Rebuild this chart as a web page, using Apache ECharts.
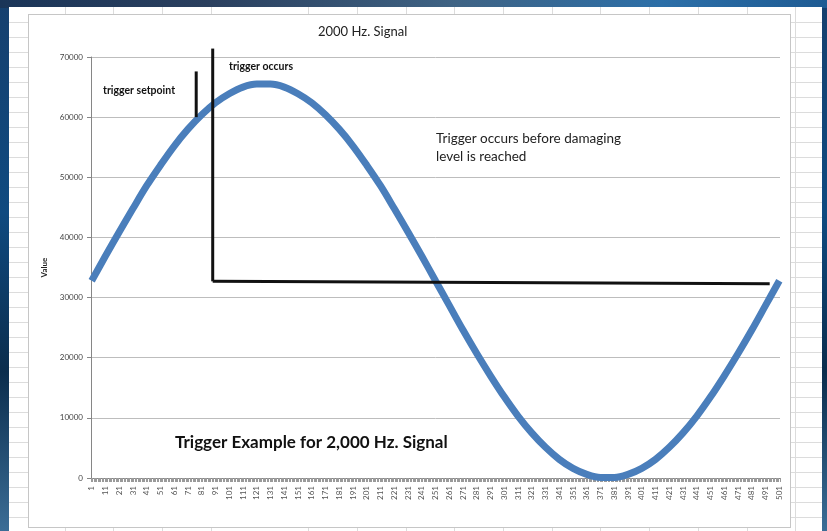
<!DOCTYPE html>
<html>
<head>
<meta charset="utf-8">
<script src="https://cdn.jsdelivr.net/npm/echarts@6/dist/echarts.min.js"></script>
<style>
  html, body { margin: 0; padding: 0; }
  body {
    width: 827px; height: 531px; overflow: hidden; position: relative;
    background: linear-gradient(180deg, #16406e 0%, #0f4a80 40%, #0b2d4d 70%, #3b6d96 100%);
  }
  .wallTop {
    position: absolute; left: 0; top: 0; width: 827px; height: 8px;
    background: linear-gradient(90deg, #1a3558 0%, #2a3f5e 25%, #3f6384 55%, #2c6fa8 80%, #1e5b93 100%);
  }
  .sheet {
    position: absolute; left: 9px; top: 7px; width: 813px; height: 524px;
    background-color: #fff;
    background-image:
      repeating-linear-gradient(90deg, transparent 0, transparent 47.7px, #dcdcdc 47.7px, #dcdcdc 48.7px),
      repeating-linear-gradient(180deg, transparent 0, transparent 14px, #dcdcdc 14px, #dcdcdc 15px);
    background-position: 8px 0, 0 1px;
  }
  .frame {
    position: absolute; left: 28px; top: 14px; width: 761px; height: 512px;
    background: #fff; border: 1px solid #c6c6c6;
  }
  #chart { position: absolute; left: 0; top: 0; width: 827px; height: 531px; }
</style>
</head>
<body>
<div class="wallTop"></div>
<div class="sheet"></div>
<div class="frame"></div>
<div id="chart"></div>
<script>
// sample numbers on the x axis (1..501)
const samples = Array.from({ length: 501 }, (_, i) => String(i + 1))

// signal every 10 samples (1, 11, 21, ... 501)
const signal = [
  32800, 36900, 40900, 44800, 48600, 52000, 55200, 58000, 60400, 62400,
  63900, 65000, 65500, 65500, 65000, 63900, 62400, 60400, 58000, 55200,
  52000, 48600, 44800, 40900, 36900, 32800, 28700, 24600, 20700, 17000,
  13500, 10300, 7500, 5100, 3100, 1600, 600, 100, 100, 600,
  1600, 3100, 5100, 7500, 10300, 13500, 17000, 20700, 24600, 28700,
  32800,
]
const readStep = 10

// trigger marks drawn by hand on the chart: [sample number, value]
const setpointMark = [[77, 67600], [77, 60000]]
const triggerMark = [[89, 71400], [89, 32700]]
const baselineMark = [[89, 32700], [494, 32300]]

const yTicks = { min: 0, max: 70000, step: 10000 }

const chart = echarts.init(document.getElementById('chart'))

const toData = (pts) => pts.map((p) => [p[0] - 1, p[1]])
const markSeries = (name, pts) => ({
  name: name,
  type: 'line',
  data: toData(pts),
  showSymbol: false,
  clip: false,
  silent: true,
  lineStyle: { color: '#111', width: 3 },
  itemStyle: { color: '#111' },
  z: 5,
})

const option = {
  animation: false,
  backgroundColor: 'transparent',
  textStyle: { fontFamily: 'Lato, "Open Sans", sans-serif' },
  title: {
    text: '2000 Hz. Signal',
    left: 318,
    top: 25,
    padding: 0,
    textStyle: { fontSize: 13, fontWeight: 'normal', color: '#222', fontFamily: 'Lato' },
  },
  grid: { left: 91, right: 47, top: 57, bottom: 53 },
  xAxis: {
    type: 'category',
    data: samples,
    boundaryGap: true,
    axisLine: { lineStyle: { color: '#868686', width: 1 } },
    axisTick: { show: true, interval: 0, length: 4, lineStyle: { color: '#9a9a9a', width: 1 } },
    axisLabel: {
      interval: 9,
      rotate: 90,
      fontSize: 8,
      margin: 8,
      color: '#555',
      fontFamily: 'Lato',
    },
    splitLine: { show: false },
  },
  yAxis: {
    type: 'value',
    min: yTicks.min,
    max: yTicks.max,
    interval: yTicks.step,
    name: 'Value',
    nameLocation: 'middle',
    nameGap: 38,
    nameRotate: 90,
    nameTextStyle: { fontSize: 8, fontWeight: 'bold', color: '#222' },
    axisLine: { show: true, lineStyle: { color: '#868686' } },
    axisTick: { show: true, length: 4, lineStyle: { color: '#868686' } },
    axisLabel: {
      fontSize: 8, color: '#444', margin: 8, fontFamily: 'Lato',
      formatter: (v) => String(v),
    },
    splitLine: { lineStyle: { color: '#bdbdbd', width: 1 } },
  },
  series: [
    {
      name: 'Value',
      type: 'line',
      data: signal.map((v, k) => [k * readStep, v]),
      smooth: 0.35,
      showSymbol: false,
      clip: false,
      lineStyle: { color: '#4a7ebb', width: 7 },
      itemStyle: { color: '#4a7ebb' },
      z: 2,
    },
    markSeries('setpoint', setpointMark),
    markSeries('trigger', triggerMark),
    markSeries('baseline', baselineMark),
  ],
  graphic: [
    {
      type: 'text', left: 103, top: 85,
      style: { text: 'trigger setpoint', font: 'bold 10.5px Lato', fill: '#111' },
    },
    {
      type: 'text', left: 229, top: 61,
      style: { text: 'trigger occurs', font: 'bold 10.5px Lato', fill: '#111' },
    },
    {
      type: 'text', left: 436, top: 130,
      style: {
        text: 'Trigger occurs before damaging\nlevel is reached',
        font: '13.5px Lato', fill: '#222', lineHeight: 18,
      },
    },
    {
      type: 'text', left: 175, top: 434,
      style: { text: 'Trigger Example for 2,000 Hz. Signal', font: 'bold 17px Lato', fill: '#111' },
    },
  ],
}

chart.setOption(option)
</script>
</body>
</html>
